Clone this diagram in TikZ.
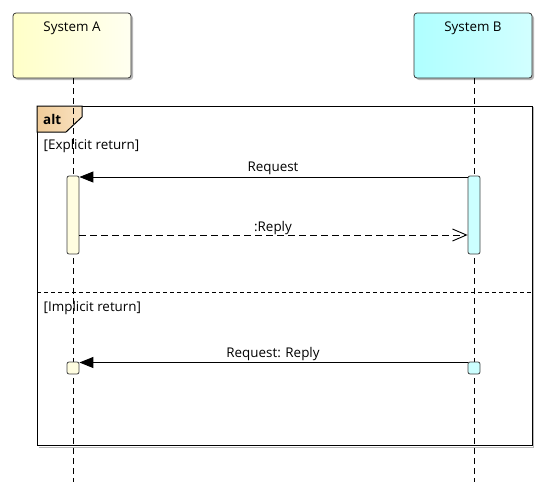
\documentclass[tikz,border=0pt]{standalone}
\usepackage{fontspec}
\setmainfont{Open Sans}
\usetikzlibrary{arrows.meta,calc}
\definecolor{yelL}{HTML}{FFFFC8}
\definecolor{yelR}{HTML}{FFFFF0}
\definecolor{cyaL}{HTML}{AFFFFF}
\definecolor{cyaR}{HTML}{D2FFFF}
\definecolor{actY}{HTML}{FFFDE0}
\definecolor{actC}{HTML}{CCFFFF}
\definecolor{tabL}{HTML}{F0CB98}
\definecolor{tabR}{HTML}{F9E2C0}
\definecolor{shad}{HTML}{B8B8B8}
\tikzset{
  lbl/.style={font=\fontsize{13.4}{15}\selectfont, inner sep=0pt},
  sysbox/.style={draw=black!80, line width=0.8pt, rounded corners=3pt, minimum width=118pt, minimum height=65pt},
  actbox/.style={draw=black!75, line width=0.8pt, rounded corners=2pt, minimum width=12pt, inner sep=0pt},
  lifeline/.style={line width=0.9pt, dash pattern=on 6pt off 4pt},
  req/.style={line width=0.9pt, -{Triangle[length=14pt,width=11pt]}},
  rep/.style={line width=0.9pt, dash pattern=on 7pt off 4pt, -{Straight Barb[length=14pt,width=12pt,line width=0.9pt]}},
  framel/.style={line width=1pt, draw=black}
}
\begin{document}
\begin{tikzpicture}[x=1pt,y=-1pt]
\useasboundingbox (0,0) rectangle (550,496);
\coordinate (aend) at (73,482);
\coordinate (bend) at (474,482);
% system boxes with shadows
\fill[shad, rounded corners=3pt] (15,15) rectangle (133,80);
\fill[shad, rounded corners=3pt] (416,15) rectangle (534,80);
\node[sysbox, left color=yelL, right color=yelR] (sa) at (72,45.5) {};
\node[sysbox, left color=cyaL, right color=cyaR] (sb) at (473,45.5) {};
\node[lbl, anchor=base] (sat) at (72,31) {System A};
\node[lbl, anchor=base] (sbt) at (473,31) {System B};
% frame
\draw[shad, line width=1pt] (38.5,447) -- (533.5,447) -- (533.5,107);
\draw[framel] (37,106) rectangle (532,445.5);
\shade[left color=tabL, right color=tabR, draw=black, line width=1pt] (37,106) -- (82,106) -- (82,117) -- (66,132) -- (37,132) -- cycle;
\node[lbl, anchor=base west, font=\fontsize{13.4}{15}\selectfont\bfseries] (alt) at (43,124) {alt};
\node[lbl, anchor=base west] (g1) at (43.5,149.5) {[Explicit return]};
\draw[line width=0.9pt, dash pattern=on 4pt off 3pt] (37,292) -- (532,292);
\node[lbl, anchor=base west] (g2) at (43.5,311) {[Implicit return]};
% lifelines
\draw[lifeline] (sa.south -| aend) -- (aend);
\draw[lifeline] (sb.south -| bend) -- (bend);
% activations
\node[actbox, fill=actY, minimum height=78pt] (actA) at (73,215) {};
\node[actbox, fill=actC, minimum height=78pt] (actB) at (474,215) {};
\node[actbox, fill=actY, minimum height=12pt] (actA2) at (73,368) {};
\node[actbox, fill=actC, minimum height=12pt] (actB2) at (474,368) {};
% messages
\coordinate (y1) at (0,177);
\coordinate (y2) at (0,235);
\coordinate (y3) at (0,362.5);
\draw[req] (actB.west |- y1) -- (actA.east |- y1);
\node[lbl, anchor=base] (m1) at (273,171) {Request};
\draw[rep] (actA.east |- y2) -- (actB.west |- y2);
\node[lbl, anchor=base] (m2) at (273,231) {:Reply};
\draw[req] (actB2.west |- y3) -- (actA2.east |- y3);
\node[lbl, anchor=base] (m3) at (273,357) {Request: Reply};
\end{tikzpicture}
\end{document}
